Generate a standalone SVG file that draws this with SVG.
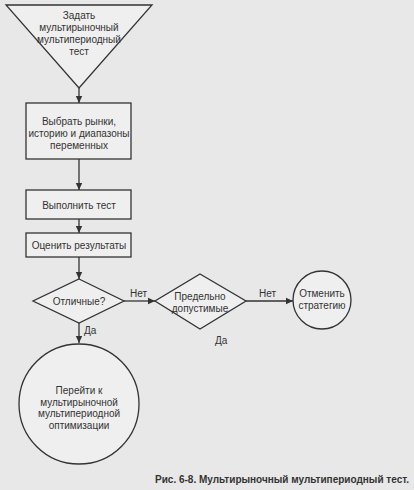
<svg xmlns="http://www.w3.org/2000/svg" width="414" height="490" viewBox="0 0 414 490">
<defs>
<marker id="ah" markerWidth="8" markerHeight="8" refX="7" refY="4" orient="auto" markerUnits="userSpaceOnUse">
<path d="M0,0.8 L7,4 L0,7.2 Z" fill="#333"/>
</marker>
<style>
.bg{fill:#e8e8e8}
.shape{fill:#efefef;stroke:#333;stroke-width:1.3}
.t{font-family:"Liberation Sans",Arial,sans-serif;font-size:10px;fill:#333;text-anchor:middle}
.lbl{font-family:"Liberation Sans",Arial,sans-serif;font-size:10px;fill:#333}
.edge{fill:none;stroke:#333;stroke-width:1.3;marker-end:url(#ah)}
.cap{font-family:"Liberation Sans",Arial,sans-serif;font-size:10px;font-weight:bold;fill:#333;text-anchor:end}
</style>
</defs>
<rect class="bg" x="0" y="0" width="414" height="490"/>
<g id="connectors">
<path class="edge" d="M79,88 L79,103"/>
<path class="edge" d="M79,159 L79,190"/>
<path class="edge" d="M79,219 L79,233"/>
<path class="edge" d="M79,257 L79,279"/>
<path class="edge" d="M124,301 L155,301"/>
<path class="edge" d="M246,301 L293,301"/>
<path class="edge" d="M79,323 L79,343"/>
<text class="lbl" x="130" y="297">Нет</text>
<text class="lbl" x="84" y="334">Да</text>
<text class="lbl" x="259" y="297">Нет</text>
<text class="lbl" x="215" y="344">Да</text>
</g>
<g id="start">
<path class="shape" d="M6,5 L152,5 L79,88 Z"/>
<text class="t" x="79" y="19">Задать</text>
<text class="t" x="79" y="31">мультирыночный</text>
<text class="t" x="79" y="43">мультипериодный</text>
<text class="t" x="79" y="55">тест</text>
</g>
<g id="select">
<rect class="shape" x="26" y="103" width="105" height="56"/>
<text class="t" x="79" y="125">Выбрать рынки,</text>
<text class="t" x="79" y="137">историю и диапазоны</text>
<text class="t" x="79" y="149">переменных</text>
</g>
<g id="run">
<rect class="shape" x="26" y="190" width="105" height="29"/>
<text class="t" x="79" y="208.5">Выполнить тест</text>
</g>
<g id="evaluate">
<rect class="shape" x="26" y="233" width="105" height="24"/>
<text class="t" x="79" y="248.5">Оценить результаты</text>
</g>
<g id="excellent">
<path class="shape" d="M79,279 L124,301 L79,323 L33,301 Z"/>
<text class="t" x="79" y="304.5">Отличные?</text>
</g>
<g id="acceptable">
<path class="shape" d="M200,274 L246,301 L200,329 L155,301 Z"/>
<text class="t" x="200" y="300">Предельно</text>
<text class="t" x="200" y="312">допустимые</text>
</g>
<g id="reject">
<circle class="shape" cx="322" cy="300" r="29"/>
<text class="t" x="322" y="297">Отменить</text>
<text class="t" x="322" y="309">стратегию</text>
</g>
<g id="optimize">
<circle class="shape" cx="79" cy="404" r="60"/>
<text class="t" x="79" y="394">Перейти к</text>
<text class="t" x="79" y="405.5">мультирыночной</text>
<text class="t" x="79" y="417">мультипериодной</text>
<text class="t" x="79" y="428.5">оптимизации</text>
</g>
<text class="cap" x="409" y="483">Рис. 6-8. Мультирыночный мультипериодный тест.</text>
</svg>
